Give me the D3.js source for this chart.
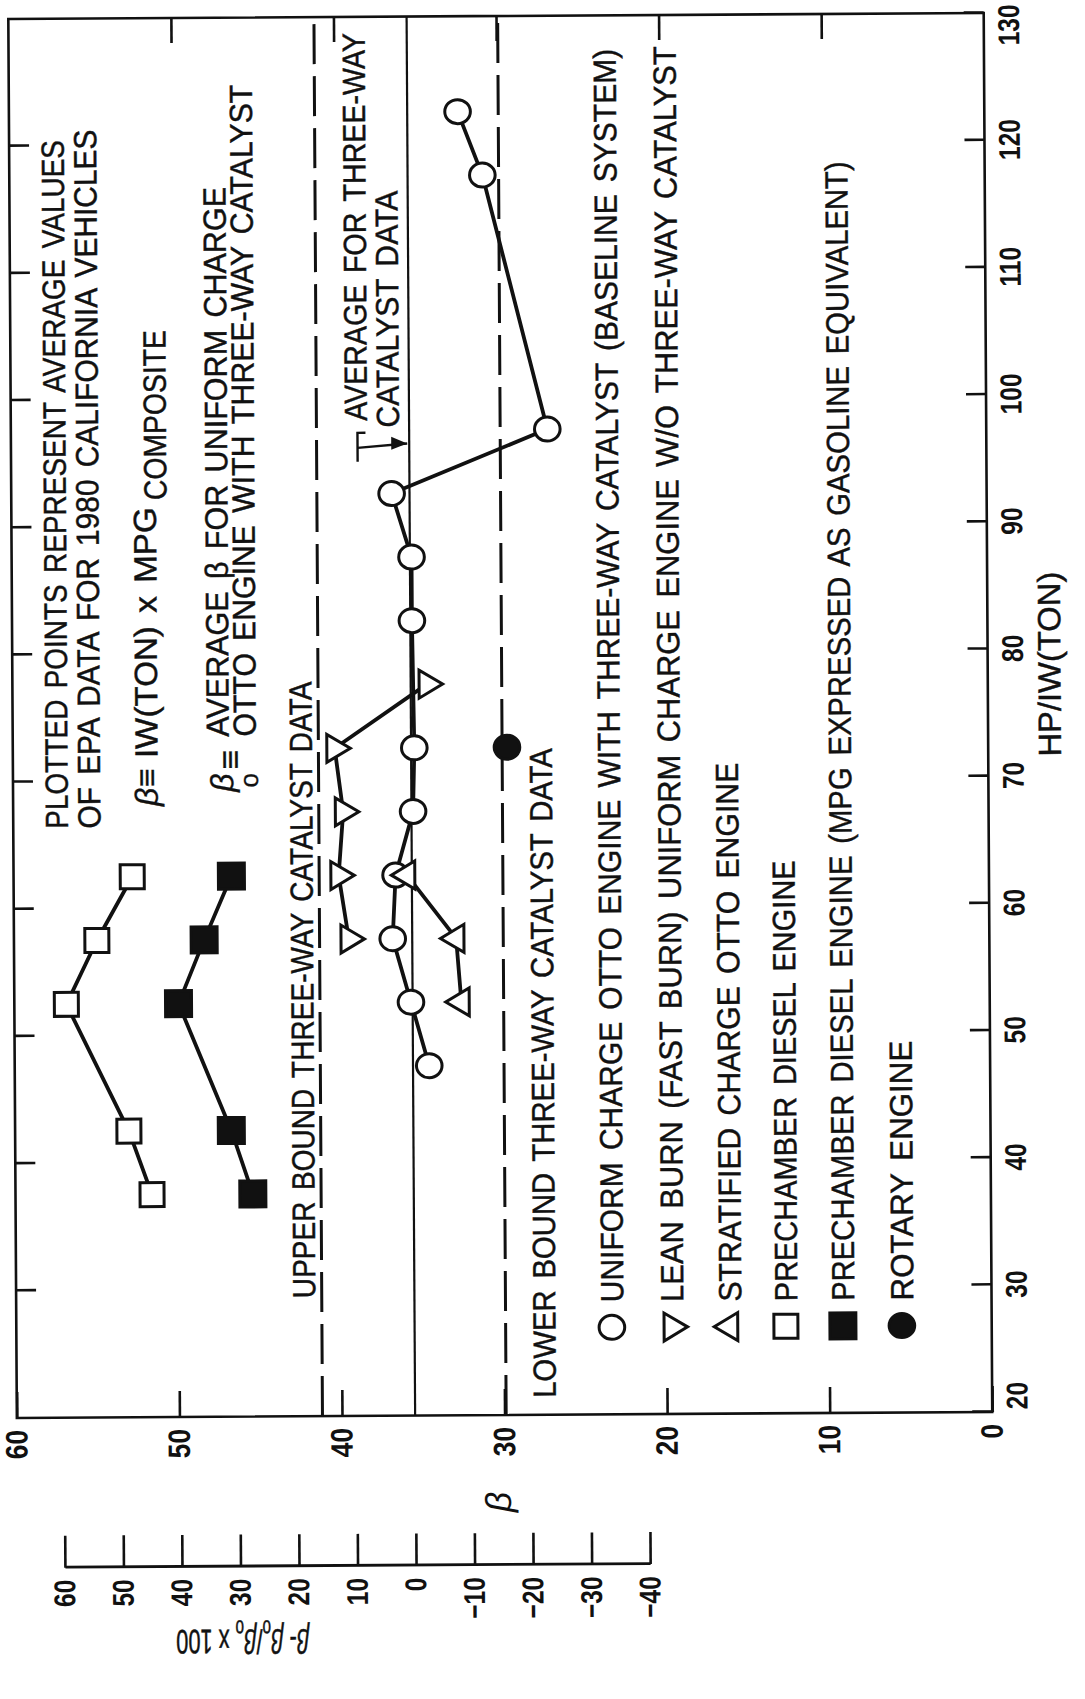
<!DOCTYPE html>
<html>
<head>
<meta charset="utf-8">
<script src="https://cdn.jsdelivr.net/npm/d3@7"></script>
<style>
  html, body { margin: 0; padding: 0; background: #fff; }
  svg { display: block; }
  text { font-family: "Liberation Sans", Arial, sans-serif; fill: #111; }
</style>
</head>
<body>
<svg id="chart" width="1085" height="1699"></svg>
<script>
// ---- data: beta = IW(TON) x MPG(composite), binned by HP/IW(TON) ----
const uniformHP      = [47.5, 52.5, 57.5, 62.5, 67.5, 72.5, 82.5, 87.5, 92.5, 97.5, 117.5, 122.5];
const uniformBeta    = [34.5, 35.6, 36.7, 36.5, 35.4, 35.3, 35.4, 35.4, 36.6, 27.0, 30.9, 32.4];
const leanHP         = [57.5, 62.5, 67.5, 72.5, 77.5];
const leanBeta       = [39.4, 40.0, 39.7, 40.2, 34.5];
const stratHP        = [52.5, 57.5, 62.5];
const stratBeta      = [32.5, 32.8, 35.8];
const dieselHP       = [37.5, 42.5, 52.5, 57.5, 62.5];
const dieselBeta     = [51.6, 53.0, 56.8, 54.9, 52.7];
const dieselGasHP    = [37.5, 42.5, 52.5, 57.5, 62.5];
const dieselGasBeta  = [45.4, 46.7, 49.9, 48.3, 46.6];
const rotaryHP       = [72.5];
const rotaryBeta     = [29.6];

// three-way catalyst reference levels
const threeWayAvg   = 35.5;
const threeWayUpper = 41.2;
const threeWayLower = 29.9;

// axis ticks
const hpTicks   = [20, 30, 40, 50, 60, 70, 80, 90, 100, 110, 120, 130];
const betaTicks = [0, 10, 20, 30, 40, 50, 60];
const pctTicks  = [60, 50, 40, 30, 20, 10, 0, -10, -20, -30, -40];
const pctUnit   = 0.36;   // beta per percent on the relative scale

const legendItems = [
  { shape: "circle",   label: "UNIFORM CHARGE OTTO ENGINE WITH THREE-WAY CATALYST (BASELINE SYSTEM)" },
  { shape: "triDown",  label: "LEAN BURN (FAST BURN) UNIFORM CHARGE ENGINE W/O THREE-WAY CATALYST" },
  { shape: "triUp",    label: "STRATIFIED CHARGE OTTO ENGINE" },
  { shape: "square",   label: "PRECHAMBER DIESEL ENGINE" },
  { shape: "squareF",  label: "PRECHAMBER DIESEL ENGINE (MPG EXPRESSED AS GASOLINE EQUIVALENT)" },
  { shape: "circleF",  label: "ROTARY ENGINE" }
];

// ---- setup: chart is drawn in its own frame, then turned a quarter turn ----
const W = 1085, H = 1699;
const svg = d3.select("#chart");
svg.append("rect").attr("width", W).attr("height", H).attr("fill", "#fff");
const root = svg.append("g")
  .attr("transform", `rotate(-0.35,500,850) translate(0,${H}) rotate(-90)`);

// page point -> local frame
const pic = (px, py) => [H - py, px];

const x = d3.scaleLinear().domain([20, 130]).range([H - 1415, H - 16]);
const y = d3.scaleLinear().domain([0, 60]).range([988.8, 13.4]);
const pct = d3.scaleLinear().domain([-40, 60])
  .range([y(threeWayAvg - 40 * pctUnit), y(threeWayAvg + 60 * pctUnit)]);

const FS = 32;
// text running up the page: centre line cx, from page-y ys up to page-y ye
function runText(parent, str, cx, ys, ye, opt = {}) {
  const size = opt.size || FS;
  const [lx, ly] = pic(cx, ys);
  const t = parent.append("text")
    .attr("font-size", size)
    .attr("stroke", "#111").attr("stroke-width", opt.sw ?? 0.45)
    .attr("word-spacing", 4)
    .text(str);
  if (opt.italic) t.attr("font-style", "italic");
  let sx = opt.sx || 0.9;
  if (ye != null) sx = (ys - ye) / t.node().getComputedTextLength();
  t.attr("transform", `translate(${lx},${ly + 0.36 * size}) scale(${sx},1)`);
  return t;
}
function condense(sel, sx) {
  sel.selectAll("text").each(function () {
    const t = d3.select(this);
    const tx = +t.attr("x") || 0, ty = +t.attr("y") || 0;
    t.attr("transform", `translate(${tx},${ty}) scale(${sx},1)`).attr("x", 0).attr("y", 0);
  });
}

// ---- frame and axes ----
root.append("rect")
  .attr("x", x(20)).attr("y", y(60))
  .attr("width", x(130) - x(20)).attr("height", y(0) - y(60))
  .attr("fill", "none").attr("stroke", "#111").attr("stroke-width", 2.6);

function styleAxis(g, fs) {
  g.select(".domain").remove();
  g.selectAll("line").attr("stroke", "#111").attr("stroke-width", 2.6);
  g.selectAll("text").attr("font-size", fs).attr("font-weight", "bold")
    .attr("font-family", "\"Liberation Sans\", Arial, sans-serif").attr("fill", "#111");
}

// beta axis
const gB = root.append("g").attr("transform", `translate(${x(20)},0)`)
  .call(d3.axisLeft(y).tickValues(betaTicks).tickSize(-26).tickPadding(12).tickFormat(d3.format("d")));
styleAxis(gB, 31); condense(gB, 0.85);

// HP axis; the end labels sit inside the corners
const gH = root.append("g").attr("transform", `translate(0,${y(0)})`)
  .call(d3.axisBottom(x).tickValues(hpTicks).tickSize(-20).tickPadding(14).tickFormat(d3.format("d")));
styleAxis(gH, 30);
gH.selectAll(".tick text")
  .attr("text-anchor", d => d === 130 ? "end" : d === 20 ? "start" : "middle")
  .attr("x", d => d === 130 ? 8 : d === 20 ? 2 : 0);
condense(gH, 0.82);

// inner ticks on the opposite edges
const gT = root.append("g").attr("transform", `translate(${x(130)},0)`)
  .call(d3.axisRight(y).tickValues([10, 20, 30, 40, 50]).tickSize(-25).tickFormat(""));
styleAxis(gT, 10);
const gL = root.append("g").attr("transform", `translate(0,${y(60)})`)
  .call(d3.axisTop(x).tickValues(hpTicks.slice(1, -1)).tickSize(-20).tickFormat(""));
styleAxis(gL, 10);

// relative scale (beta - beta0)/beta0 x 100
const gP = root.append("g").attr("transform", `translate(${H - 1565},0)`)
  .call(d3.axisLeft(pct).tickValues(pctTicks).tickSize(-32).tickSizeOuter(0).tickPadding(12).tickFormat(d3.format("d")));
gP.select(".domain").attr("stroke", "#111").attr("stroke-width", 2.8);
gP.selectAll("line").attr("stroke", "#111").attr("stroke-width", 2.6);
gP.selectAll("text").attr("font-size", 30).attr("font-weight", "bold")
  .attr("font-family", "\"Liberation Sans\", Arial, sans-serif").attr("fill", "#111");
condense(gP, 0.82);

// ---- reference levels ----
[[threeWayUpper, "40 12", 3], [threeWayLower, "40 12", 3], [threeWayAvg, null, 2.2]].forEach(([v, dash, w]) => {
  root.append("line")
    .attr("x1", x(20)).attr("x2", x(130)).attr("y1", y(v)).attr("y2", y(v))
    .attr("stroke", "#111").attr("stroke-width", w)
    .attr("stroke-dasharray", dash);
});

// ---- series ----
const zip = (a, b) => a.map((v, i) => ({ hp: v, b: b[i] }));
const uniform = zip(uniformHP, uniformBeta);
const lean = zip(leanHP, leanBeta);
const strat = zip(stratHP, stratBeta);
const diesel = zip(dieselHP, dieselBeta);
const dieselGas = zip(dieselGasHP, dieselGasBeta);
const rotary = zip(rotaryHP, rotaryBeta);

const line = d3.line().x(d => x(d.hp)).y(d => y(d.b));
[uniform, lean, strat, diesel, dieselGas].forEach(s => {
  root.append("path").attr("d", line(s))
    .attr("fill", "none").attr("stroke", "#111").attr("stroke-width", 3.8)
    .attr("stroke-linejoin", "round");
});

function marker(g, shape, cx, cy) {
  const h = 23.5, s = 14;
  if (shape === "circle" || shape === "circleF") {
    g.append("ellipse").attr("cx", cx).attr("cy", cy)
      .attr("rx", 12).attr("ry", 12.8)
      .attr("fill", shape === "circle" ? "#fff" : "#111").attr("stroke", "#111").attr("stroke-width", 3);
  } else if (shape === "square" || shape === "squareF") {
    const a = shape === "square" ? 24 : 26;
    g.append("rect").attr("x", cx - a / 2).attr("y", cy - a / 2).attr("width", a).attr("height", a)
      .attr("fill", shape === "square" ? "#fff" : "#111").attr("stroke", "#111").attr("stroke-width", 3);
  } else {
    const pts = shape === "triDown"
      ? [[cx - s, cy - h / 3], [cx + s, cy - h / 3], [cx, cy + 2 * h / 3]]
      : [[cx - s, cy + h / 3], [cx + s, cy + h / 3], [cx, cy - 2 * h / 3]];
    g.append("path").attr("d", "M" + pts.map(p => p.join(",")).join("L") + "Z")
      .attr("fill", "#fff").attr("stroke", "#111").attr("stroke-width", 3).attr("stroke-linejoin", "miter");
  }
}
const gM = root.append("g");
uniform.forEach(d => marker(gM, "circle", x(d.hp), y(d.b)));
lean.forEach(d => marker(gM, "triDown", x(d.hp), y(d.b)));
strat.forEach(d => marker(gM, "triUp", x(d.hp), y(d.b)));
diesel.forEach(d => marker(gM, "square", x(d.hp), y(d.b)));
dieselGas.forEach(d => marker(gM, "squareF", x(d.hp), y(d.b)));
rotary.forEach(d => marker(gM, "circleF", x(d.hp), y(d.b)));

// ---- legend ----
const legX = [609, 669, 727, 783, 840, 899];
const legEnd = [49, 47, 764, 862, 163, 1043];
legendItems.forEach((it, i) => {
  const [mx, my] = pic(legX[i], 1328);
  marker(root, it.shape, mx, my);
  runText(root, it.label, legX[i], 1303, legEnd[i]);
});

// ---- annotations ----
const notes = [
  { t: "PLOTTED POINTS REPRESENT AVERAGE VALUES", cx: 56.5, ys: 826, ye: 137 },
  { t: "OF EPA DATA FOR 1980 CALIFORNIA VEHICLES", cx: 89, ys: 826, ye: 127 },
  { t: "IW(TON) x MPG", cx: 146.5, ys: 756, ye: 505 },
  { t: "COMPOSITE", cx: 157, ys: 498, ye: 328 },
  { t: "AVERAGE  \u03b2  FOR UNIFORM CHARGE", cx: 218, ys: 735, ye: 185 },
  { t: "OTTO ENGINE WITH THREE-WAY CATALYST", cx: 245, ys: 735, ye: 83 },
  { t: "UPPER BOUND THREE-WAY CATALYST DATA", cx: 301, ys: 1297, ye: 680 },
  { t: "AVERAGE FOR THREE-WAY", cx: 358, ys: 420, ye: 32 },
  { t: "CATALYST DATA", cx: 390, ys: 427, ye: 190 },
  { t: "LOWER BOUND THREE-WAY CATALYST DATA", cx: 541, ys: 1398, ye: 748 },
  { t: "HP/IW(TON)", cx: 1050, ys: 760, ye: 575 }
];
notes.forEach(n => runText(root, n.t, n.cx, n.ys, n.ye));

// beta and beta_o definition symbols
runText(root, "\u03b2", 146.5, 804, null, { italic: true, sw: 0.3, sx: 1 });
runText(root, "\u2261", 146.5, 785, null, { sw: 0.3, sx: 1 });
runText(root, "\u03b2", 222, 790, null, { italic: true, sw: 0.3, sx: 1 });
runText(root, "o", 249, 786, null, { size: 26, sw: 0.3, sx: 1 });
runText(root, "\u2261", 230, 768, null, { size: 34, sw: 0.3, sx: 1 });

// arrow to the average line
{
  const g = root.append("g").attr("fill", "none").attr("stroke", "#111").attr("stroke-width", 2.4);
  const hpA = x.invert(H - 447), hpTop = x.invert(H - 432), hpBot = x.invert(H - 461);
  const bStart = y.invert(360);
  g.append("path").attr("d", `M${x(hpTop)},${y(bStart) + 8}L${x(hpTop)},${y(bStart)}L${x(hpBot)},${y(bStart)}`);
  g.append("path").attr("d", `M${x(hpA)},${y(bStart)}L${x(hpA) + 4},${y(threeWayAvg) - 2}`);
  const tipX = x(hpA) + 4, tipY = y(threeWayAvg) - 2;
  root.append("path")
    .attr("d", `M${tipX},${tipY}L${tipX + 7},${tipY - 16}L${tipX - 6},${tipY - 16}Z`)
    .attr("fill", "#111");
}

// axis titles
{
  const [lx, ly] = pic(494, 1502);
  root.append("text").attr("transform", `translate(${lx},${ly + 13})`)
    .attr("font-size", 36).attr("font-style", "italic").attr("text-anchor", "middle").text("\u03b2");
}
{
  const [lx, ly] = pic(238, 1640);
  const t = root.append("text")
    .attr("transform", `translate(${lx},${ly}) rotate(-90) scale(0.64,1)`)
    .attr("y", 12).attr("font-size", 34).attr("text-anchor", "middle")
    .attr("stroke", "#111").attr("stroke-width", 0.5);
  [
    { t: "\u03b2", italic: true }, { t: "- " },
    { t: "\u03b2", italic: true }, { t: "o", dy: 9, size: 24 },
    { t: "/", dy: -9 }, { t: "\u03b2", italic: true }, { t: "o", dy: 9, size: 24 },
    { t: " x 100", dy: -9 }
  ].forEach(p => {
    const s = t.append("tspan").text(p.t);
    if (p.dy) s.attr("dy", p.dy);
    if (p.size) s.attr("font-size", p.size);
    if (p.italic) s.attr("font-style", "italic");
  });
}
</script>
</body>
</html>
